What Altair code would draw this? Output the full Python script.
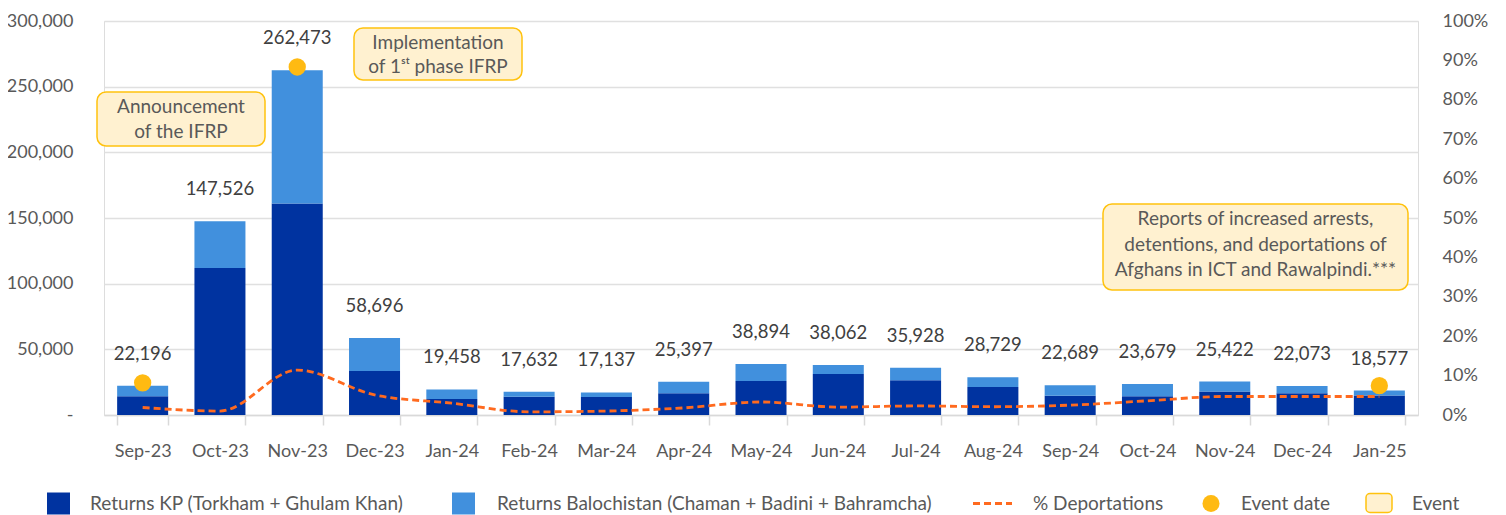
import altair as alt
import pandas as pd

months = ["Sep-23", "Oct-23", "Nov-23", "Dec-23", "Jan-24", "Feb-24", "Mar-24", "Apr-24",
          "May-24", "Jun-24", "Jul-24", "Aug-24", "Sep-24", "Oct-24", "Nov-24", "Dec-24", "Jan-25"]
totals = [22196, 147526, 262473, 58696, 19458, 17632, 17137, 25397,
          38894, 38062, 35928, 28729, 22689, 23679, 25422, 22073, 18577]
kp_returns = [14200, 112000, 161000, 33500, 12200, 13900, 13700, 16600,
              25800, 31300, 26400, 21400, 14600, 14200, 17800, 16600, 14800]
pct_deport = [0.019, 0.010, 0.114, 0.051, 0.030, 0.008, 0.010, 0.018,
              0.033, 0.020, 0.023, 0.021, 0.025, 0.036, 0.047, 0.047, 0.047]
event_months = ["Sep-23", "Nov-23", "Jan-25"]
event_values = [24500, 265000, 22300]
series_names = ["Returns KP (Torkham + Ghulam Khan)",
                "Returns Balochistan (Chaman + Badini + Bahramcha)"]

C_KP = "#0033A0"
C_BAL = "#4190DD"
C_LINE = "#FF6A1F"
C_EVT = "#FFBA12"
C_BOX = "#FFF1D0"
C_BOXS = "#FFC20E"
C_TXT = "#595959"
C_LBL = "#404040"
FONT = "Lato"

rows = []
for m, t, k in zip(months, totals, kp_returns):
    rows.append({"month": m, "series": series_names[0], "value": k, "ord": 0})
    rows.append({"month": m, "series": series_names[1], "value": t - k, "ord": 1})
bars_df = pd.DataFrame(rows)
tot_df = pd.DataFrame({"month": months, "total": totals})
pct_df = pd.DataFrame({"month": months, "pct": pct_deport})
evt_df = pd.DataFrame({"month": event_months, "value": event_values})
one = pd.DataFrame({"a": [0]})

xenc = alt.X("month:N", sort=months,
             scale=alt.Scale(paddingInner=0.34, paddingOuter=0.17),
             axis=alt.Axis(title=None, labelAngle=0, tickBand="extent", tickSize=10,
                           tickColor="#D9D9D9", domainColor="#D9D9D9", domainWidth=1.5,
                           tickWidth=1.5, labelFontSize=18, labelColor=C_TXT,
                           labelPadding=17, labelFont=FONT, grid=False))

yscale = alt.Scale(domain=[0, 300000], nice=False)

bars = alt.Chart(bars_df).mark_bar().encode(
    x=xenc,
    y=alt.Y("value:Q", stack="zero", scale=yscale,
            axis=alt.Axis(title=None, values=[0, 50000, 100000, 150000, 200000, 250000, 300000],
                          grid=True, gridColor="#E0E0E0", gridWidth=1.5, domain=False, ticks=False,
                          labelExpr="datum.value == 0 ? '-\u00a0\u00a0\u00a0' : format(datum.value, ',')",
                          labelPadding=31, labelFontSize=18, labelColor=C_TXT, labelFont=FONT)),
    color=alt.Color("series:N", scale=alt.Scale(domain=series_names, range=[C_KP, C_BAL]), legend=None),
    order=alt.Order("ord:Q"),
)

labels = alt.Chart(tot_df).mark_text(dy=-32, fontSize=18.5, color=C_LBL, font=FONT).encode(
    x=alt.X("month:N", sort=months),
    y=alt.Y("total:Q", scale=yscale, title=None),
    text=alt.Text("total:Q", format=","),
)

dots = alt.Chart(evt_df).mark_circle(size=300, color=C_EVT, opacity=1).encode(
    x=alt.X("month:N", sort=months),
    y=alt.Y("value:Q", scale=yscale, title=None),
)

left = alt.layer(bars, labels, dots)

line = alt.Chart(pct_df).mark_line(color=C_LINE, strokeWidth=2.8, strokeDash=[7, 4],
                                   interpolate="monotone").encode(
    x=alt.X("month:N", sort=months),
    y=alt.Y("pct:Q", scale=alt.Scale(domain=[0, 1], nice=False),
            axis=alt.Axis(title=None, orient="right", values=[i / 10 for i in range(11)],
                          format=".0%", grid=False, domain=False, ticks=False,
                          labelPadding=24, labelFontSize=18, labelColor=C_TXT, labelFont=FONT)),
)


def box(x1, x2, y1, y2, cx, ys, lines_):
    parts = [alt.Chart(one).mark_rect(fill=C_BOX, stroke=C_BOXS, strokeWidth=1.5, cornerRadius=9).encode(
        x=alt.value(x1), x2=alt.value(x2), y=alt.value(y1), y2=alt.value(y2))]
    for yy, t in zip(ys, lines_):
        parts.append(alt.Chart(one).mark_text(text=t, fontSize=19, color=C_TXT, font=FONT,
                                              align="center", baseline="middle").encode(
            x=alt.value(cx), y=alt.value(yy)))
    return parts


ann = []
ann += box(-7, 161, 71, 125, 77, [86, 111], ["Announcement", "of the IFRP"])
ann += box(250, 418, 7, 59, 334, [22, 46], ["Implementation", "of 1ˢᵗ phase IFRP"])
ann += box(999, 1304, 183, 269, 1151.5, [198, 223.5, 249],
           ["Reports of increased arrests,", "detentions, and deportations of",
            "Afghans in ICT and Rawalpindi.***"])

LY = 482.5


def ltext(x, t):
    return alt.Chart(one).mark_text(text=t, fontSize=19, color=C_TXT, font=FONT,
                                    align="left", baseline="middle").encode(
        x=alt.value(x), y=alt.value(LY))


leg = [
    alt.Chart(one).mark_rect(color=C_KP).encode(x=alt.value(-57), x2=alt.value(-34),
                                                y=alt.value(LY - 11), y2=alt.value(LY + 11)),
    ltext(-14, series_names[0]),
    alt.Chart(one).mark_rect(color=C_BAL).encode(x=alt.value(348), x2=alt.value(371),
                                                 y=alt.value(LY - 11), y2=alt.value(LY + 11)),
    ltext(393, series_names[1]),
    alt.Chart(one).mark_rule(color=C_LINE, strokeWidth=3, strokeDash=[7, 4]).encode(
        x=alt.value(869), x2=alt.value(908), y=alt.value(LY)),
    ltext(929, "% Deportations"),
    alt.Chart(one).mark_circle(color=C_EVT, size=290, opacity=1).encode(x=alt.value(1107), y=alt.value(LY)),
    ltext(1137, "Event date"),
    alt.Chart(one).mark_rect(fill=C_BOX, stroke=C_BOXS, strokeWidth=1.5, cornerRadius=4).encode(
        x=alt.value(1262), x2=alt.value(1288), y=alt.value(LY - 10), y2=alt.value(LY + 9)),
    ltext(1308, "Event"),
]

extras = alt.layer(*ann, *leg)

chart = alt.layer(left, line, extras).resolve_scale(y="independent").properties(
    width=1314, height=394,
    autosize=alt.AutoSizeParams(type="none"),
    padding={"left": 96, "top": 13, "right": 80, "bottom": 100},
).configure_view(stroke=None).configure(font=FONT)

chart.save("out.html", embed_options={"renderer": "svg", "actions": False})
